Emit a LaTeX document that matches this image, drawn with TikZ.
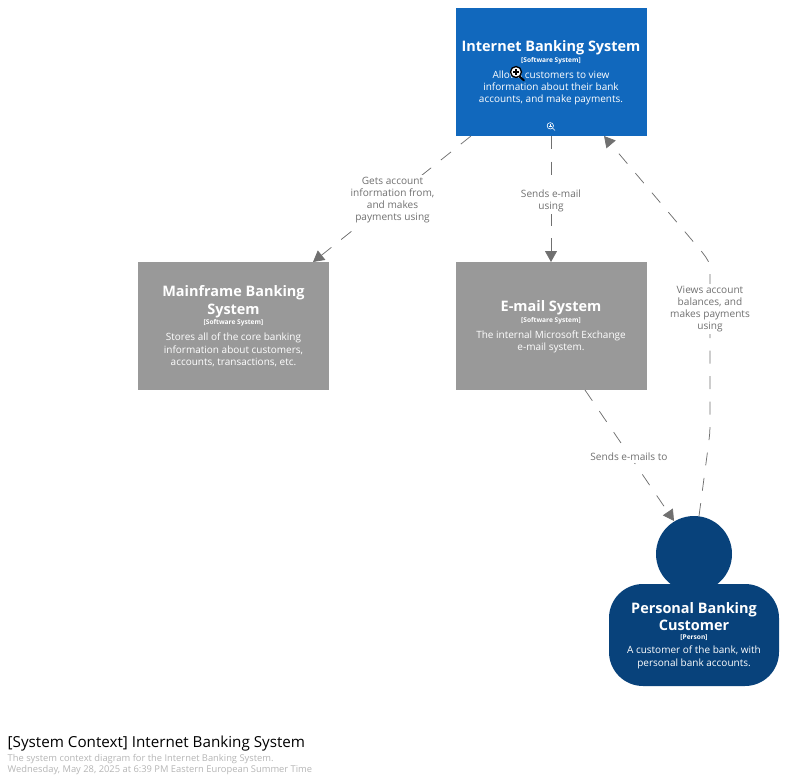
\documentclass[tikz,border=0pt]{standalone}
\usepackage{fontspec}
\setmainfont{Open Sans}
\usetikzlibrary{arrows.meta}
\definecolor{ibs}{HTML}{1168BD}
\definecolor{ext}{HTML}{999999}
\definecolor{cust}{HTML}{08427B}
\definecolor{edge}{HTML}{707070}
\definecolor{captiongrey}{HTML}{B5B5B5}
\tikzset{
  sysbox/.style={rectangle,draw=none,fill=#1,minimum width=191.3pt,minimum height=128pt,inner sep=0pt,anchor=north west},
  conn/.style={draw=edge,line width=0.75pt,dash pattern=on 13pt off 12.5pt,-{Triangle[length=11pt,width=12pt,fill=edge,color=edge,sep=0pt]}},
  edgelabel/.style={fill=white,text=edge,align=center,font=\fontsize{10.1}{12}\selectfont,inner xsep=1.5pt,inner ysep=2.5pt},
  boxtext/.style={text=white,align=center,inner sep=0pt},
  titletext/.style={font=\fontsize{14.45}{17.5}\selectfont\bfseries},
  kindtext/.style={font=\fontsize{6.6}{8}\selectfont\bfseries},
  desctext/.style={font=\fontsize{10}{12.3}\selectfont},
  captionline/.style={anchor=west,inner sep=0pt,text=captiongrey,font=\fontsize{9.35}{11}\selectfont},
}
\begin{document}
\begin{tikzpicture}[x=1pt,y=-1pt]
\useasboundingbox (0,0) rectangle (787,781);
\node[sysbox=ibs] (ibs) at (455.4,8) {};
\node[sysbox=ext] (main) at (137.8,262) {};
\node[sysbox=ext] (mail) at (455.4,262) {};
\fill[cust,rounded corners=34pt] (609,584) rectangle (779,686);
\fill[cust] (694,554) circle (38);
\coordinate (custtop) at (699,516);
\coordinate (custin) at (674,521);
\coordinate (ibsout) at (471,136);
\coordinate (mainin) at (313,262);
\coordinate (ibsdown) at (551,136);
\coordinate (mailin) at (551,262);
\coordinate (mailout) at (585,390);
\coordinate (ibsin) at (604,136);
% connectors
\draw[conn] (ibsout) -- (mainin);
\draw[conn] (ibsdown) -- (mailin);
\draw[conn] (mailout) -- (custin);
\draw[conn] (custtop) -- (708,448) .. controls (710,432) and (710,432) .. (710,420) -- (710,272) .. controls (710,262) and (708,260) .. (702,252) -- (ibsin);
% connector labels
\node[edgelabel] (l1) at (392.5,200.5) {Gets account\\information from,\\and makes\\payments using};
\node[edgelabel] (l2) at (551,200.5) {Sends e-mail\\using};
\node[edgelabel] (l3) at (710,309) {Views account\\balances, and\\makes payments\\using};
\node[edgelabel] (l4) at (629,457) {Sends e-mails to};
% box texts
\node[boxtext,titletext] (t1) at (551,47.5) {Internet Banking System};
\node[boxtext,kindtext] (k1) at (551,61) {[Software System]};
\node[boxtext,desctext] (d1) at (551,88) {Allows customers to view\\information about their bank\\accounts, and make payments.};
\node[boxtext,titletext] (t2) at (233.5,301.5) {Mainframe Banking\\System};
\node[boxtext,kindtext] (k2) at (233.5,323) {[Software System]};
\node[boxtext,desctext] (d2) at (233.5,350) {Stores all of the core banking\\information about customers,\\accounts, transactions, etc.};
\node[boxtext,titletext] (t3) at (551,308) {E-mail System};
\node[boxtext,kindtext] (k3) at (551,321) {[Software System]};
\node[boxtext,desctext] (d3) at (551,342) {The internal Microsoft Exchange\\e-mail system.};
\node[boxtext,titletext] (t4) at (694,616.5) {Personal Banking\\Customer};
\node[boxtext,kindtext] (k4) at (694,638) {[Person]};
\node[boxtext,desctext] (d4) at (694,657.5) {A customer of the bank, with\\personal bank accounts.};
% zoom icon on the box
\draw[white,line width=0.6pt] (550.3,125.8) circle (3.2);
\draw[white,line width=0.6pt] (552.6,128.1) -- (555,130.5);
\draw[white,line width=0.5pt] (548.7,125.8) -- (551.9,125.8) (550.3,124.2) -- (550.3,127.4);
% magnifier pointer
\draw[black,line width=2pt,line cap=round] (519,76) -- (524,80.5);
\draw[black,fill=white,line width=1.3pt] (516,72) circle (5.5);
\draw[black,line width=1.2pt] (513,72) -- (519,72) (516,69) -- (516,75);
% caption
\node[anchor=west,inner sep=0pt,text=black,font=\fontsize{15.2}{18}\selectfont] (cap) at (7.5,743.5) {[System Context] Internet Banking System};
\node[captionline] (c1) at (7.5,759.5) {The system context diagram for the Internet Banking System.};
\node[captionline] (c2) at (7.5,770.5) {Wednesday, May 28, 2025 at 6:39 PM Eastern European Summer Time};
\end{tikzpicture}
\end{document}
